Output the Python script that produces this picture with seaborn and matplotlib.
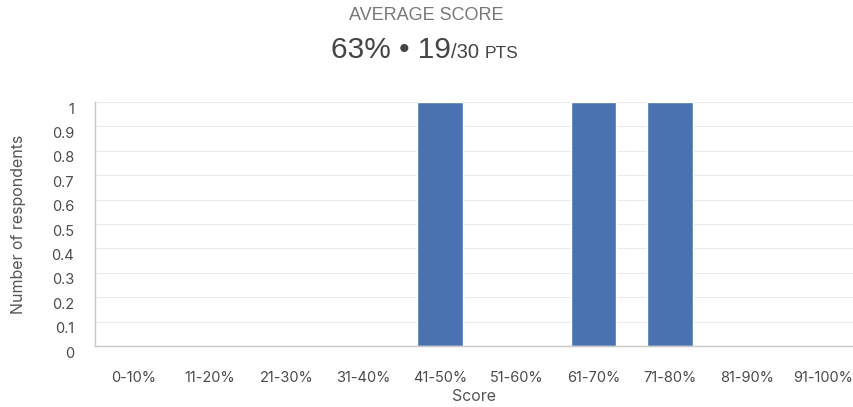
import matplotlib
matplotlib.use("Agg")
import matplotlib.pyplot as plt
import seaborn as sns
import pandas as pd
from matplotlib.transforms import ScaledTranslation

categories = ["0-10%", "11-20%", "21-30%", "31-40%", "41-50%",
              "51-60%", "61-70%", "71-80%", "81-90%", "91-100%"]
respondents = [0, 0, 0, 0, 1, 0, 1, 1, 0, 0]
y_ticks = [0, 0.1, 0.2, 0.3, 0.4, 0.5, 0.6, 0.7, 0.8, 0.9, 1]
y_tick_labels = ["0", "0.1", "0.2", "0.3", "0.4", "0.5", "0.6", "0.7", "0.8", "0.9", "1"]

df = pd.DataFrame({"Score": categories, "Respondents": respondents})

sns.set_theme(style="white")
plt.rcParams["font.family"] = ["Inter", "DejaVu Sans"]

W, H = 854, 407
fig = plt.figure(figsize=(W / 100, H / 100), dpi=100)
ax = fig.add_axes([95 / W, (H - 346) / H, (854 - 95) / W, (346 - 102) / H])

sns.barplot(data=df, x="Score", y="Respondents", color="#4a72b0",
            width=0.59, saturation=1, ax=ax, order=categories)

ax.set_xlim(-0.5, 9.4)
ax.set_ylim(0, 1)
ax.set_yticks(y_ticks)
ax.set_yticklabels(y_tick_labels)
ax.yaxis.grid(True, color="#ececec", linewidth=0.8)
ax.set_axisbelow(True)
for s in ["top", "right"]:
    ax.spines[s].set_visible(False)
for s in ["left", "bottom"]:
    ax.spines[s].set_color("#c8c8c8")
    ax.spines[s].set_linewidth(1.0)
ax.tick_params(axis="both", length=0, labelsize=10.5, labelcolor="#4a4a4a")
ax.tick_params(axis="x", pad=18)
ax.tick_params(axis="y", pad=15)
for lab in ax.get_yticklabels():
    lab.set_transform(lab.get_transform() + ScaledTranslation(0, -6 / 100, fig.dpi_scale_trans))

ax.set_xlabel("Score", fontsize=11.5, color="#555555", labelpad=3)
ax.set_ylabel("Number of respondents", fontsize=11.5, color="#555555", labelpad=18)

# Titles
fig.text(426 / W, 1 - 16 / H, "AVERAGE SCORE", ha="center", va="center",
         fontsize=13, color="#777777", family=["Liberation Sans", "DejaVu Sans"])

parts = [("63% \u2022 19", 21.5), ("/30 ", 14.5), ("PTS", 12.5)]
fig.canvas.draw()
r = fig.canvas.get_renderer()
texts = []
for s, fs in parts:
    t = fig.text(0, 1 - 58 / H, s, ha="left", va="baseline", fontsize=fs,
                 color="#444444", family=["Liberation Sans", "DejaVu Sans"])
    texts.append(t)
widths = [t.get_window_extent(r).width for t in texts]
total = sum(widths)
x = 425 - total / 2
for t, w in zip(texts, widths):
    t.set_x(x / W)
    x += w

fig.savefig("out.png", dpi=100)
